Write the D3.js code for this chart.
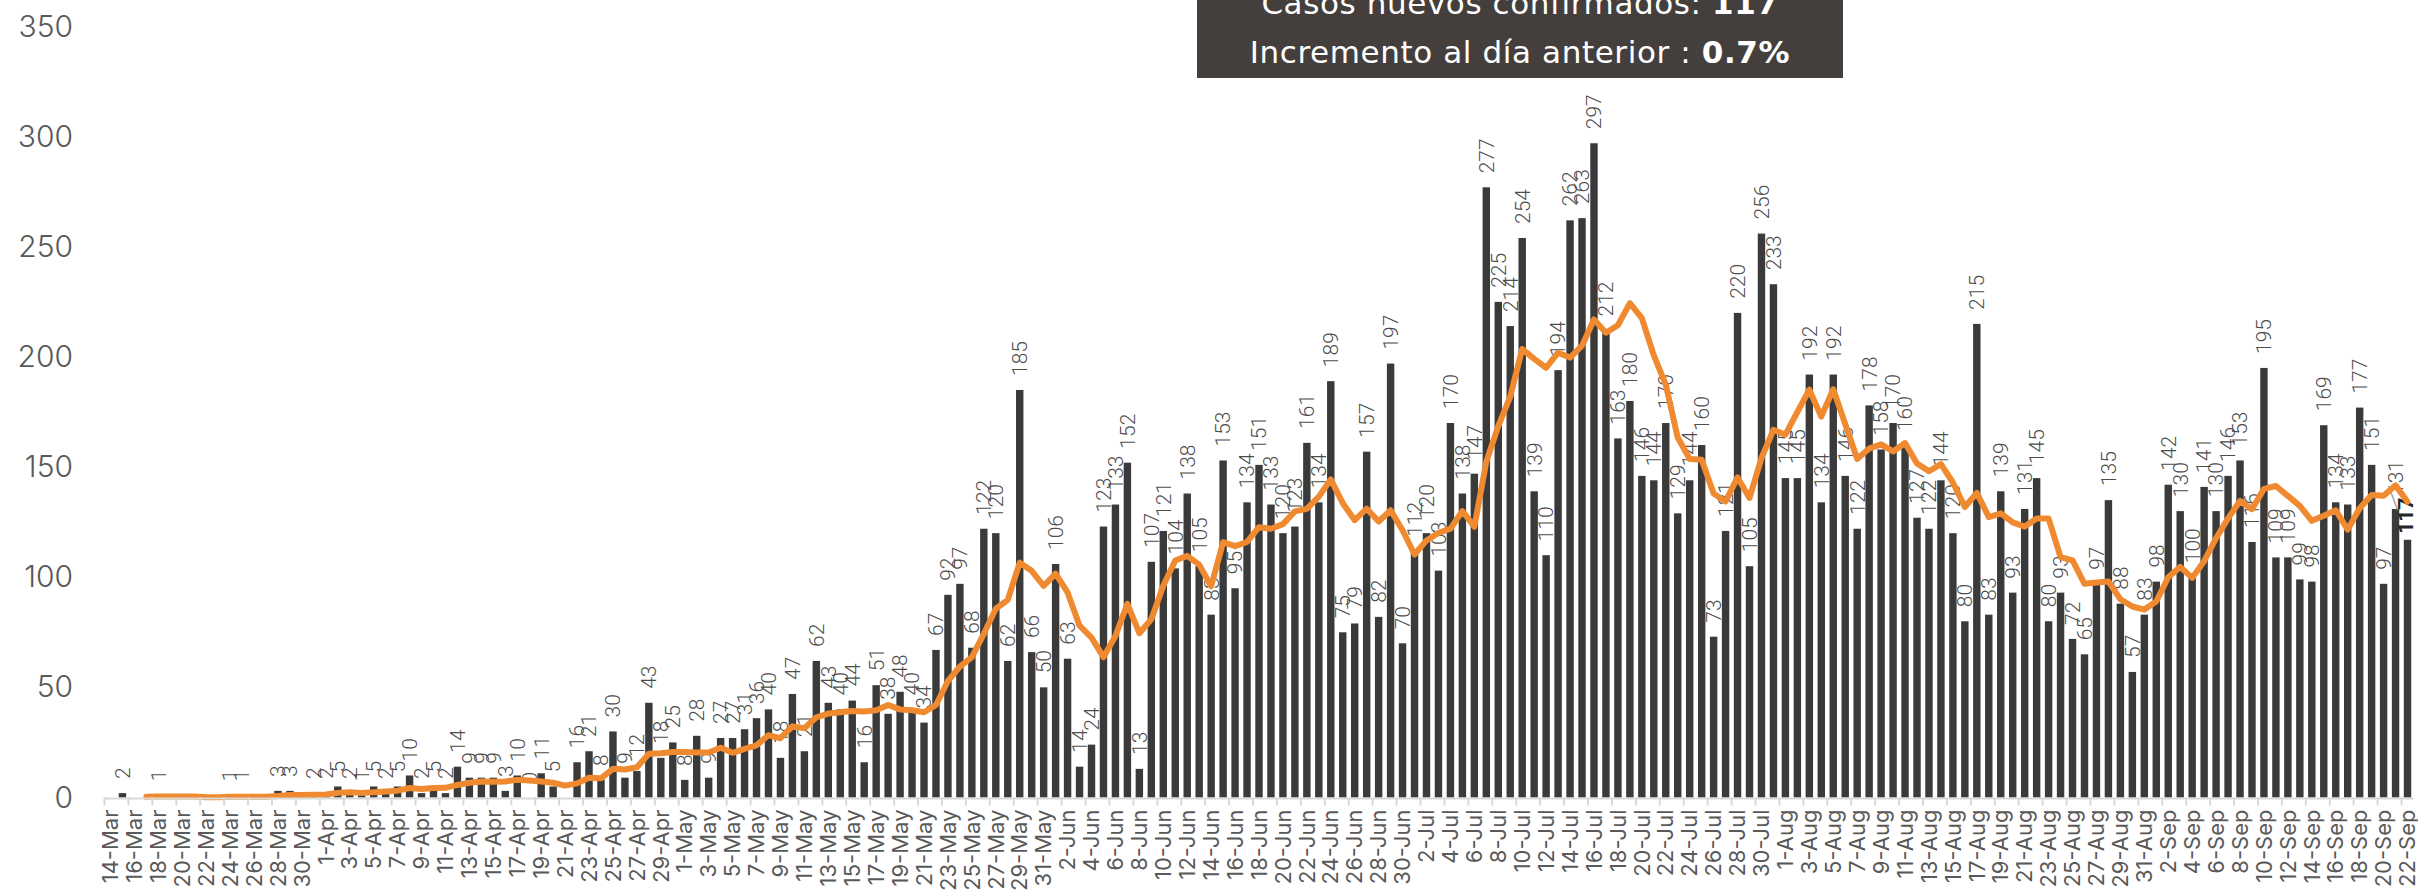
<!DOCTYPE html>
<html>
<head>
<meta charset="utf-8">
<script src="https://cdn.jsdelivr.net/npm/d3@7"></script>
<style>
  body { margin: 0; background: #fff; }
</style>
</head>
<body>
<div id="grafica"></div>
<script>
// categorias: un dia por barra, 14-Mar a 22-Sep
const fechas = [
  "14-Mar","15-Mar","16-Mar","17-Mar","18-Mar","19-Mar","20-Mar","21-Mar","22-Mar","23-Mar","24-Mar","25-Mar","26-Mar","27-Mar","28-Mar","29-Mar","30-Mar","31-Mar",
  "1-Apr","2-Apr","3-Apr","4-Apr","5-Apr","6-Apr","7-Apr","8-Apr","9-Apr","10-Apr","11-Apr","12-Apr","13-Apr","14-Apr","15-Apr","16-Apr","17-Apr","18-Apr","19-Apr","20-Apr","21-Apr","22-Apr","23-Apr","24-Apr","25-Apr","26-Apr","27-Apr","28-Apr","29-Apr","30-Apr",
  "1-May","2-May","3-May","4-May","5-May","6-May","7-May","8-May","9-May","10-May","11-May","12-May","13-May","14-May","15-May","16-May","17-May","18-May","19-May","20-May","21-May","22-May","23-May","24-May","25-May","26-May","27-May","28-May","29-May","30-May","31-May",
  "1-Jun","2-Jun","3-Jun","4-Jun","5-Jun","6-Jun","7-Jun","8-Jun","9-Jun","10-Jun","11-Jun","12-Jun","13-Jun","14-Jun","15-Jun","16-Jun","17-Jun","18-Jun","19-Jun","20-Jun","21-Jun","22-Jun","23-Jun","24-Jun","25-Jun","26-Jun","27-Jun","28-Jun","29-Jun","30-Jun",
  "1-Jul","2-Jul","3-Jul","4-Jul","5-Jul","6-Jul","7-Jul","8-Jul","9-Jul","10-Jul","11-Jul","12-Jul","13-Jul","14-Jul","15-Jul","16-Jul","17-Jul","18-Jul","19-Jul","20-Jul","21-Jul","22-Jul","23-Jul","24-Jul","25-Jul","26-Jul","27-Jul","28-Jul","29-Jul","30-Jul","31-Jul",
  "1-Aug","2-Aug","3-Aug","4-Aug","5-Aug","6-Aug","7-Aug","8-Aug","9-Aug","10-Aug","11-Aug","12-Aug","13-Aug","14-Aug","15-Aug","16-Aug","17-Aug","18-Aug","19-Aug","20-Aug","21-Aug","22-Aug","23-Aug","24-Aug","25-Aug","26-Aug","27-Aug","28-Aug","29-Aug","30-Aug","31-Aug",
  "1-Sep","2-Sep","3-Sep","4-Sep","5-Sep","6-Sep","7-Sep","8-Sep","9-Sep","10-Sep","11-Sep","12-Sep","13-Sep","14-Sep","15-Sep","16-Sep","17-Sep","18-Sep","19-Sep","20-Sep","21-Sep","22-Sep"
];

// casos nuevos confirmados por dia (null = sin dato)
const casos = [
  null,2,null,null,1,null,null,null,null,null,1,1,null,null,3,3,null,2,
  2,5,2,1,5,2,5,10,2,5,2,14,9,9,9,3,10,0,11,5,null,16,21,8,30,9,12,43,18,25,
  8,28,9,27,27,31,36,40,18,47,21,62,43,40,44,16,51,38,48,40,34,67,92,97,68,122,120,62,185,66,50,
  106,63,14,24,123,133,152,13,107,121,104,138,105,83,153,95,134,151,133,120,123,161,134,189,75,79,157,82,197,70,
  112,120,103,170,138,147,277,225,214,254,139,110,194,262,263,297,212,163,180,146,144,170,129,144,160,73,121,220,105,256,233,
  145,145,192,134,192,146,122,178,158,170,160,127,122,144,120,80,215,83,139,93,131,145,80,93,72,65,97,135,88,57,83,
  98,142,130,100,141,130,146,153,116,195,109,109,99,98,169,134,133,177,151,97,131,117
];

// promedio movil (linea naranja)
const promedio = [
  null,null,null,0.3,0.4,0.4,0.4,0.4,0.1,0.1,0.3,0.3,0.3,0.3,0.7,1.1,1.1,1.3,
  1.4,2.1,2.4,2.1,2.4,2.7,3.1,4.3,3.9,4.3,4.4,5.7,6.7,7.3,7.1,7.3,8.0,7.7,7.3,6.7,5.4,6.4,9.0,8.7,13.0,12.7,13.7,19.9,20.1,20.7,
  20.7,20.4,20.4,22.6,20.3,22.1,23.7,28.3,26.9,32.3,31.4,36.4,38.1,38.7,39.3,39.0,39.6,42.0,40.0,39.6,38.7,42.0,52.9,59.4,63.7,74.3,85.7,89.7,106.6,102.9,96.1,
  101.6,93.1,78.0,72.6,63.7,73.3,87.9,74.6,80.9,96.1,107.6,109.7,105.7,95.9,115.9,114.1,116.0,122.7,122.0,124.1,129.9,131.0,136.6,144.4,133.6,125.9,131.1,125.3,130.4,121.3,
  110.3,116.7,120.1,122.0,130.0,122.9,152.4,168.6,182.0,203.6,199.1,195.1,201.9,199.7,205.1,217.0,211.0,214.4,224.4,217.6,200.7,187.4,163.4,153.7,153.3,138.0,134.4,145.3,136.0,154.1,166.9,
  164.7,175.0,185.1,172.9,185.3,169.6,153.7,158.4,160.3,157.1,160.9,151.6,148.1,151.3,143.0,131.9,138.3,127.3,129.0,124.9,123.0,126.6,126.6,109.1,107.6,97.0,97.6,98.1,90.0,86.7,85.3,
  89.0,100.0,104.7,99.7,107.3,117.7,126.7,134.6,130.9,140.1,141.4,136.9,132.4,125.6,127.9,130.4,121.6,131.3,137.3,137.0,141.7,134.3
];

const yTicks = [0, 50, 100, 150, 200, 250, 300, 350];

const tituloCasos = "Casos nuevos confirmados:";
const tituloCasosValor = "117";
const tituloIncremento = "Incremento al día anterior :";
const tituloIncrementoValor = "0.7%";

const width = 2418, height = 890;
const svg = d3.select("#grafica").append("svg")
  .attr("width", width)
  .attr("height", height);

var x = d3.scaleBand()
  .domain(fechas)
  .range([104.5, 2413.5]);

var y = d3.scaleLinear()
  .domain([0, 350])
  .range([797.5, 26.5]);

const barW = x.bandwidth() * 0.62;
const centro = f => x(f) + x.bandwidth() / 2;

const datos = fechas.map((f, i) => ({ f: f, v: casos[i], i: i }));
const ultimo = fechas.length - 1;

// barras
svg.selectAll("rect.barra")
  .data(datos.filter(d => d.v != null && d.v > 0))
  .enter()
  .append("rect")
  .attr("class", "barra")
  .attr("x", d => centro(d.f) - barW / 2)
  .attr("y", d => y(d.v))
  .attr("width", barW)
  .attr("height", d => y(0) - y(d.v))
  .attr("fill", "#3a3a3a");

// etiquetas de datos
svg.selectAll("text.etiqueta")
  .data(datos.filter(d => d.v != null && d.i !== ultimo))
  .enter()
  .append("text")
  .attr("class", "etiqueta")
  .attr("transform", d => "translate(" + centro(d.f) + "," + (y(d.v) - 14) + ") rotate(-90)")
  .attr("dy", "0.35em")
  .attr("text-anchor", "start")
  .style("font-family", "Roboto, sans-serif")
  .style("font-weight", 300)
  .style("font-size", "21px")
  .style("fill", "#4d4d4d")
  .text(d => d.v);

// etiqueta destacada del ultimo dia, con linea guia
const dUlt = datos[ultimo];
svg.append("line")
  .attr("x1", centro(dUlt.f) - 19).attr("y1", y(dUlt.v) - 54)
  .attr("x2", centro(dUlt.f) - 10).attr("y2", y(dUlt.v) - 30)
  .attr("stroke", "#a6a6a6")
  .attr("stroke-width", 1.5);
svg.append("text")
  .attr("transform", "translate(" + (centro(dUlt.f) - 2) + "," + (y(dUlt.v) - 6) + ") rotate(-90)")
  .attr("dy", "0.35em")
  .attr("text-anchor", "start")
  .style("font-family", "Roboto, sans-serif")
  .style("font-weight", 700)
  .style("font-size", "21px")
  .style("fill", "#262626")
  .text(dUlt.v);

// linea de promedio
const linea = d3.line()
  .defined(d => d.p != null)
  .x(d => centro(d.f))
  .y(d => y(d.p));

svg.append("path")
  .datum(fechas.map((f, i) => ({ f: f, p: promedio[i] })))
  .attr("d", linea)
  .attr("fill", "none")
  .attr("stroke", "#ef8a30")
  .attr("stroke-width", 6)
  .attr("stroke-linejoin", "round")
  .attr("stroke-linecap", "round");

// eje x
const etiquetasX = fechas.filter((f, i) => i % 2 === 0);
svg.append("line")
  .attr("x1", x.range()[0]).attr("x2", x.range()[1])
  .attr("y1", y(0) + 1).attr("y2", y(0) + 1)
  .attr("stroke", "#d9d9d9")
  .attr("stroke-width", 2);

svg.selectAll("line.marca")
  .data(etiquetasX)
  .enter()
  .append("line")
  .attr("class", "marca")
  .attr("x1", d => x(d)).attr("x2", d => x(d))
  .attr("y1", y(0)).attr("y2", y(0) + 8)
  .attr("stroke", "#d9d9d9")
  .attr("stroke-width", 2);

const ejeX = svg.append("g")
  .attr("transform", "translate(0," + (y(0) + 12) + ")")
  .call(d3.axisBottom(x).tickValues(etiquetasX).tickSize(0).tickPadding(0));
ejeX.select(".domain").remove();
ejeX.selectAll("text")
  .attr("x", 0).attr("y", 0)
  .attr("dy", "0.35em")
  .attr("transform", "rotate(-90)")
  .style("text-anchor", "end")
  .style("font-family", "Inter, sans-serif")
  .style("font-size", "22px")
  .style("fill", "#595959");

// eje y
const ejeY = svg.append("g")
  .attr("transform", "translate(73,0)")
  .call(d3.axisLeft(y).tickValues(yTicks).tickSize(0).tickPadding(0));
ejeY.select(".domain").remove();
ejeY.selectAll("text")
  .style("font-family", "Inter, sans-serif")
  .style("font-weight", 300)
  .style("font-size", "30px")
  .style("fill", "#595959");

// recuadro de titulo
const cajaX = 1197, cajaW = 646;
svg.append("rect")
  .attr("x", cajaX).attr("y", -10)
  .attr("width", cajaW).attr("height", 88)
  .attr("fill", "#443f3d");

const t1 = svg.append("text")
  .attr("x", cajaX + cajaW / 2).attr("y", 14)
  .attr("text-anchor", "middle")
  .style("font-family", "'DejaVu Sans', sans-serif")
  .style("font-size", "31px")
  .style("letter-spacing", "0.6px")
  .style("fill", "#fff");
t1.append("tspan").text(tituloCasos + "  ");
t1.append("tspan").style("font-weight", 700).text(tituloCasosValor);

const t2 = svg.append("text")
  .attr("x", cajaX + cajaW / 2).attr("y", 63)
  .attr("text-anchor", "middle")
  .style("font-family", "'DejaVu Sans', sans-serif")
  .style("font-size", "31px")
  .style("letter-spacing", "0.6px")
  .style("fill", "#fff");
t2.append("tspan").text(tituloIncremento + " ");
t2.append("tspan").style("font-weight", 700).text(tituloIncrementoValor);
</script>
</body>
</html>
